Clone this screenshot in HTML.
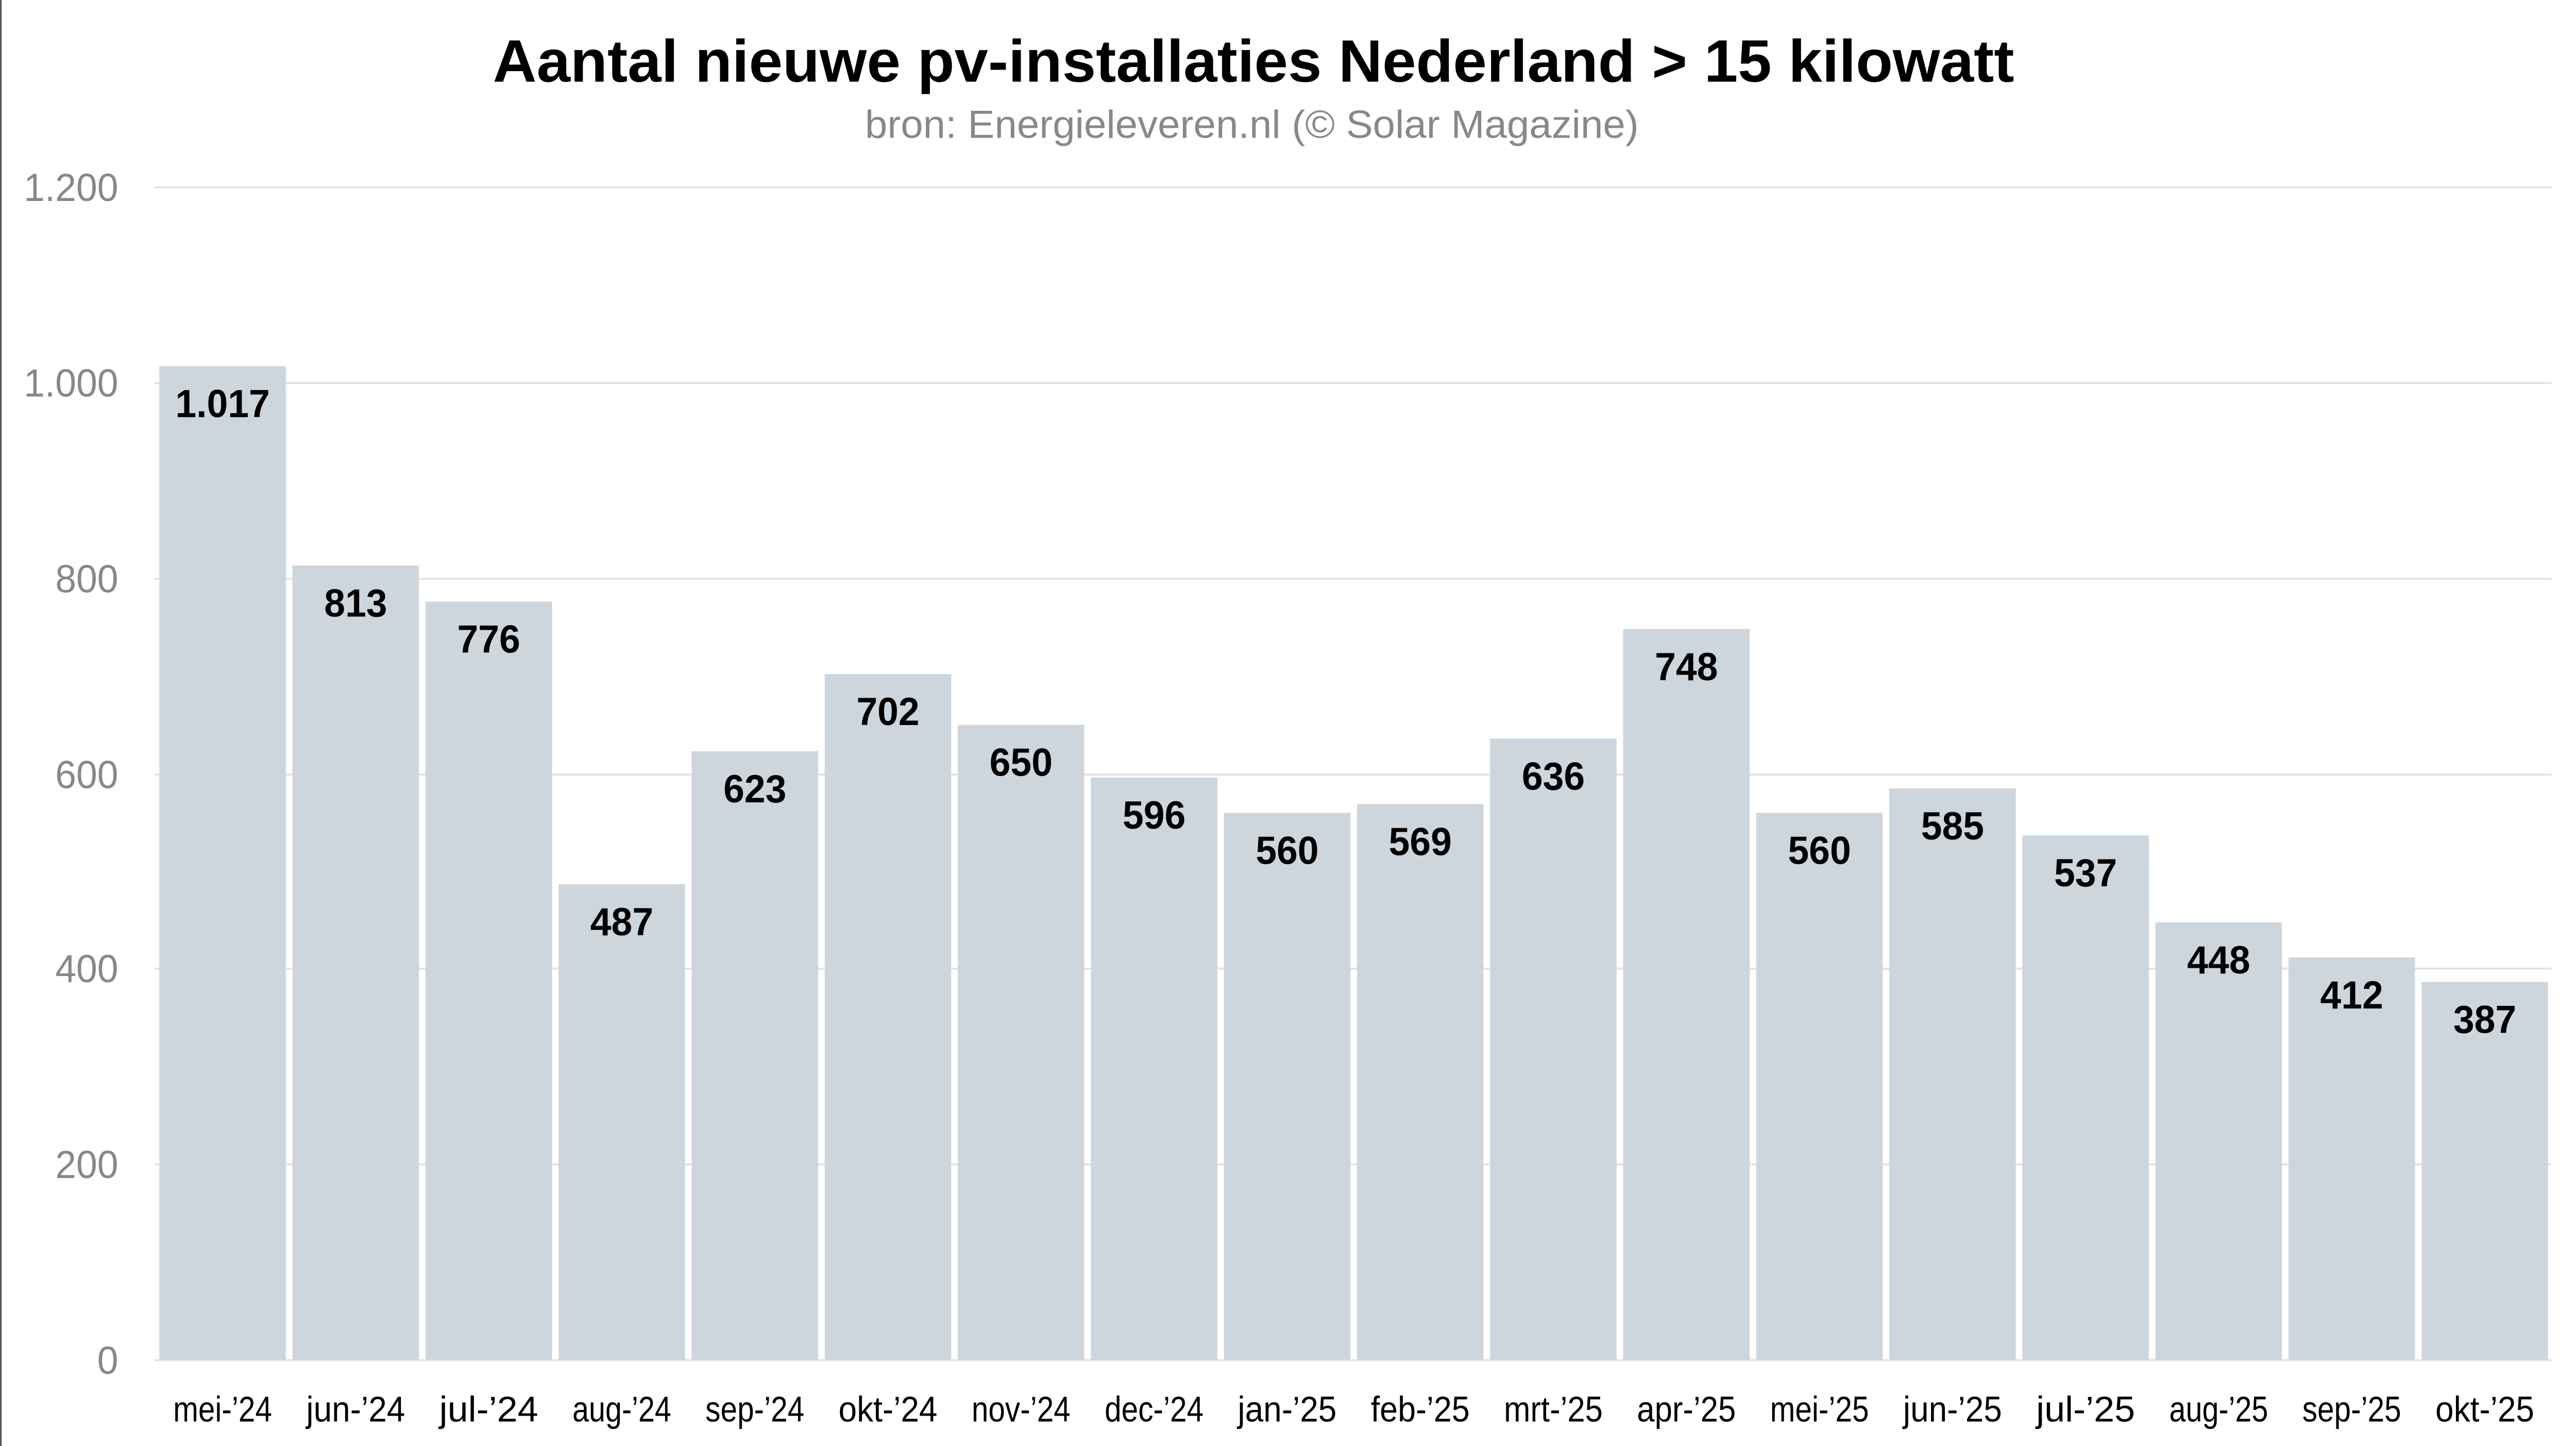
<!DOCTYPE html>
<html><head><meta charset="utf-8"><style>
html,body{margin:0;padding:0;background:#fff;width:100%;height:100%;overflow:hidden;}
svg{position:fixed;left:0;top:0;width:100vw;height:100vh;display:block;}
text{font-family:"Liberation Sans",sans-serif;}
</style></head><body>
<svg viewBox="0 0 1568 849.4" preserveAspectRatio="none" xmlns="http://www.w3.org/2000/svg">
<rect x="0" y="0" width="1568" height="850" fill="#fff"/>
<line x1="0.5" y1="0" x2="0.5" y2="850" stroke="#555" stroke-width="1"/>
<text x="763" y="48" text-anchor="middle" font-size="35" font-weight="bold" fill="#000" textLength="926" lengthAdjust="spacingAndGlyphs">Aantal nieuwe pv-installaties Nederland &gt; 15 kilowatt</text>
<text x="762" y="81" text-anchor="middle" font-size="23" fill="#888" textLength="471" lengthAdjust="spacingAndGlyphs">bron: Energieleveren.nl (© Solar Magazine)</text>
<g stroke="#e3e3e3" stroke-width="1.2">
<line x1="94" x2="1553" y1="110" y2="110"/>
<line x1="94" x2="1553" y1="225" y2="225"/>
<line x1="94" x2="1553" y1="340" y2="340"/>
<line x1="94" x2="1553" y1="455" y2="455"/>
<line x1="94" x2="1553" y1="569" y2="569"/>
<line x1="94" x2="1553" y1="684" y2="684"/>
<line x1="94" x2="1553" y1="799" y2="799"/>
</g>
<g font-size="23" fill="#888" text-anchor="end">
<text x="72" y="118">1.200</text>
<text x="72" y="233">1.000</text>
<text x="72" y="348">800</text>
<text x="72" y="463">600</text>
<text x="72" y="577">400</text>
<text x="72" y="692">200</text>
<text x="72" y="807">0</text>
</g>
<g id="bars"></g>
</svg>
<script>
var vals=[1017,813,776,487,623,702,650,596,560,569,636,748,560,585,537,448,412,387];
var labs=["mei-’24","jun-’24","jul-’24","aug-’24","sep-’24","okt-’24","nov-’24","dec-’24","jan-’25","feb-’25","mrt-’25","apr-’25","mei-’25","jun-’25","jul-’25","aug-’25","sep-’25","okt-’25"];
var g=document.getElementById("bars"),h="";
for(var i=0;i<vals.length;i++){
 var x=97+81*i, y=799-vals[i]*689/1200, cx=x+38.5;
 var lbl=vals[i]>=1000?(Math.floor(vals[i]/1000)+"."+String(vals[i]%1000).padStart(3,"0")):String(vals[i]);
 h+='<rect x="'+x+'" y="'+y+'" width="77" height="'+(799-y)+'" fill="#cdd5dd"/>';
 h+='<text x="'+cx+'" y="'+(y+30)+'" text-anchor="middle" font-size="23" font-weight="bold" fill="#000">'+lbl+'</text>';
 h+='<text x="'+cx+'" y="835" text-anchor="middle" font-size="21" fill="#000" textLength="'+(labs[i].length*8.6)+'" lengthAdjust="spacingAndGlyphs">'+labs[i]+'</text>';
}
g.innerHTML=h;
</script>
</body></html>
